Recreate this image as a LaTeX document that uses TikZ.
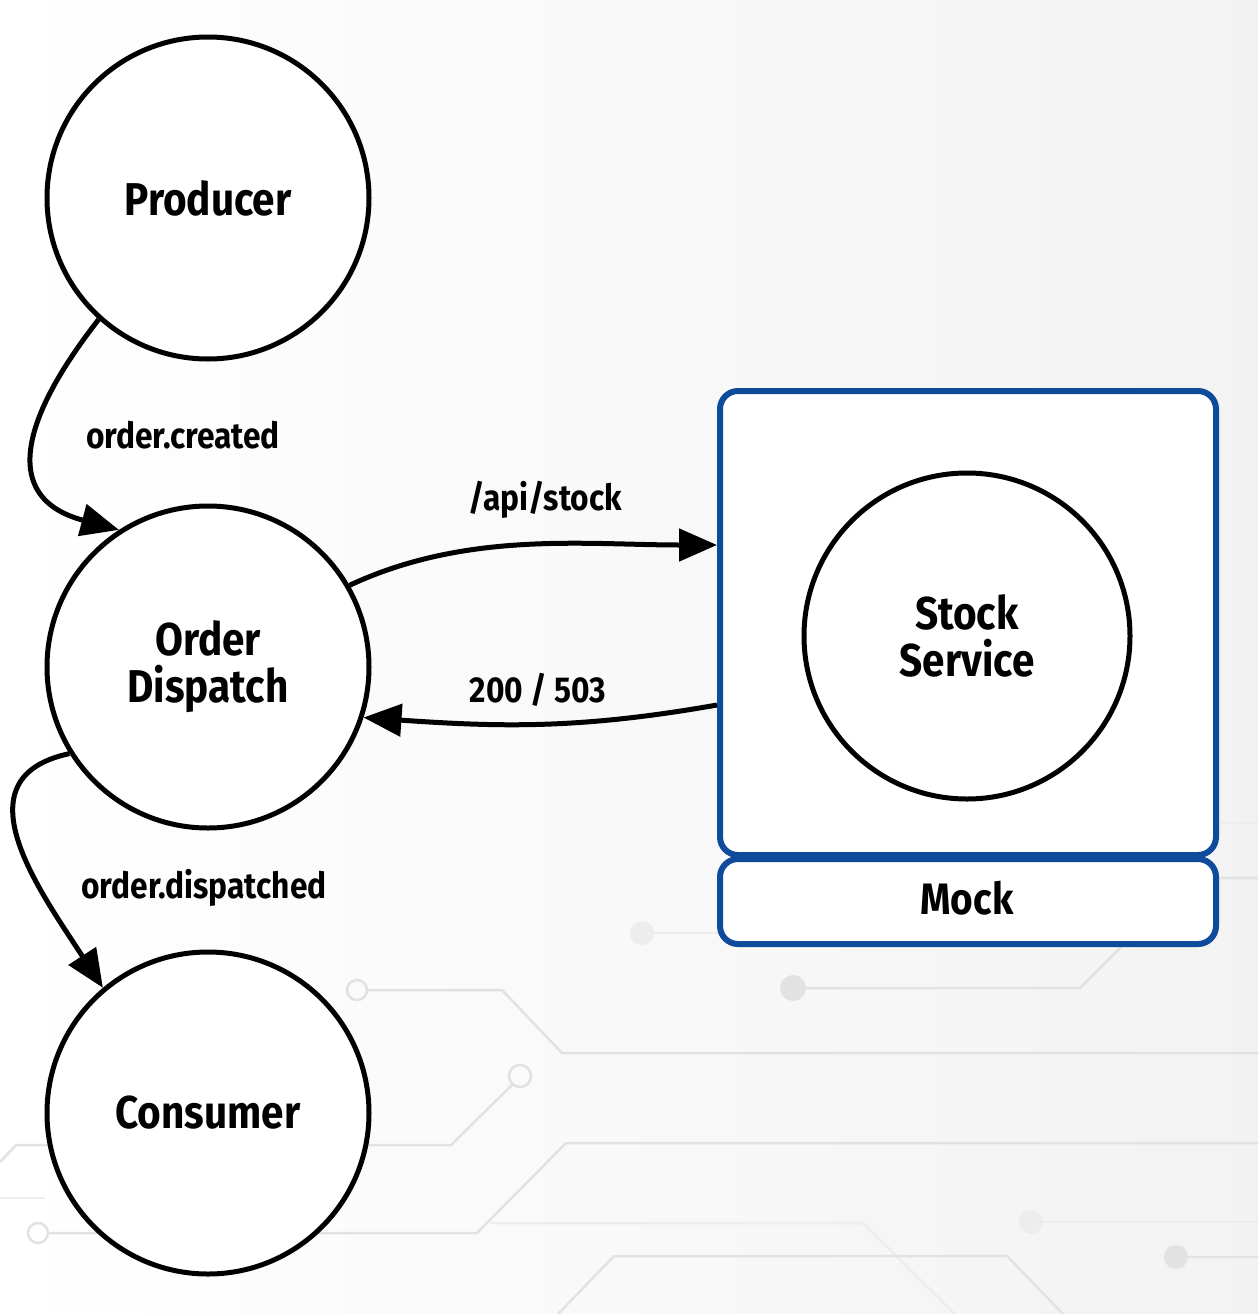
\documentclass[tikz,border=0pt]{standalone}
\usepackage{fontspec}
\setmainfont{Fira Sans}
\newfontfamily\hand{Fira Sans}[FakeStretch=0.88]
\usetikzlibrary{arrows.meta,calc}
\definecolor{mockblue}{HTML}{0F4B9B}
\definecolor{circ}{HTML}{E2E2E2}
\definecolor{circlite}{HTML}{EDEDED}
\tikzset{
  bubble/.style={circle, draw, line width=5pt, fill=white, minimum size=322pt, inner sep=0pt,
    font=\hand\bfseries\fontsize{46}{47}\selectfont, align=center},
  conn/.style={line width=5pt, -{Triangle[length=38pt,width=32pt]}},
  lbl/.style={font=\hand\bfseries\fontsize{36}{38}\selectfont, inner sep=0pt},
  mockbox/.style={draw=mockblue, line width=6pt, rounded corners=18pt, fill=white, inner sep=0pt},
  trace/.style={draw=circ, line width=2.5pt},
  tracelite/.style={draw=circlite, line width=2.5pt}
}
\begin{document}
\begin{tikzpicture}[x=1pt,y=-1pt]
\useasboundingbox (0,0) rectangle (1258,1314);
\shade[left color=white, right color=black!5] (0,0) rectangle (1258,1314);
% circuit traces
\draw[trace] (367,990) -- (502,990) -- (562,1053) -- (1258,1053);
\draw[trace] (357,990) circle (10);
\draw[trace] (513,1084) -- (451,1145) -- (16,1145) -- (0,1162);
\draw[trace] (520,1076) circle (11);
\draw[trace] (1258,1143) -- (566,1143) -- (477,1233) -- (49,1233);
\draw[trace] (38,1233) circle (10);
\draw[tracelite] (490,1223) -- (863,1223) -- (955,1314);
\fill[circlite] (1031,1222) circle (12);
\draw[tracelite] (1031,1222) -- (1258,1222);
\fill[circ] (1176,1257) circle (12);
\draw[trace] (1176,1257) -- (1258,1257);
\draw[trace] (558,1314) -- (614,1256) -- (1007,1256) -- (1063,1314);
\fill[circ] (793,988) circle (13);
\draw[trace] (793,988) -- (1080,988) -- (1190,878) -- (1258,878);
\draw[tracelite] (1005,850) -- (1045,823) -- (1258,823);
\fill[circlite] (642,933) circle (12);
\draw[tracelite] (642,933) -- (720,933);
\draw[tracelite] (0,1198) -- (45,1198);
% mock boxes
\node[mockbox, minimum width=496pt, minimum height=464pt] (box) at (968,623) {};
\node[mockbox, minimum width=496pt, minimum height=85pt] (mock) at (968,901.5) {};
\node[lbl, font=\hand\bfseries\fontsize{44}{46}\selectfont] (mocktxt) at (967,898) {Mock};
% bubbles
\node[bubble] (prod) at (208,198) {Producer};
\node[bubble] (od) at (208,667) {Order\\Dispatch};
\node[bubble] (cons) at (208,1113) {Consumer};
\node[bubble, minimum size=326pt] (stock) at (967,636) {Stock\\Service};
% connectors
\draw[conn] (prod.228) to[out=232,in=165,looseness=1.5] (od.123);
\draw[conn] (od.30) to[out=25,in=180,looseness=0.9] ($(box.west)+(0,-78)$);
\draw[conn] ($(box.west)+(0,82)$) to[out=190,in=-4] (od.-18);
\draw[conn] (od.212) to[out=192,in=123,looseness=1.25] (cons.130);
% labels
\node[lbl] (l1) at (183,435) {order.created};
\node[lbl] (l2) at (545,500) {/api/stock};
\node[lbl] (l3) at (538,690) {200 / 503};
\node[lbl] (l4) at (204,888) {order.dispatched};
\end{tikzpicture}
\end{document}
